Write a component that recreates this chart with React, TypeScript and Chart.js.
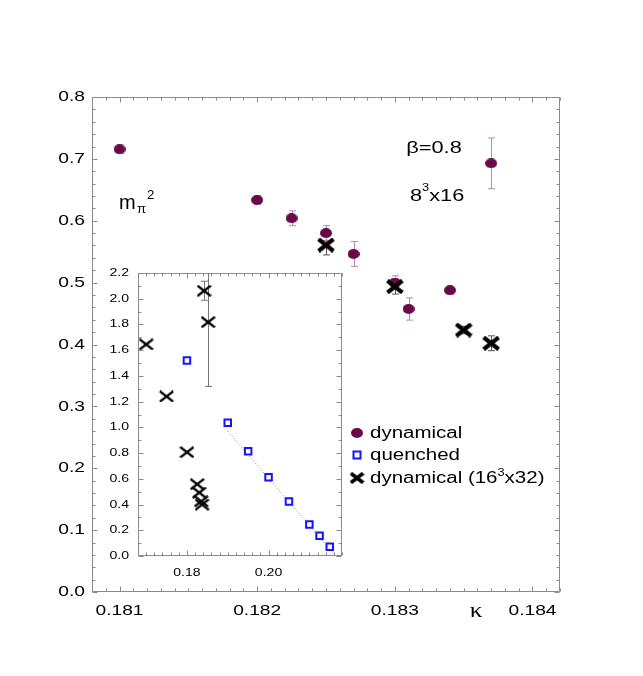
import React, { useEffect, useRef } from "react";
import { Chart, registerables } from "chart.js";

Chart.register(...registerables);

// ---------- data ----------
const dynKappa = [0.181, 0.182, 0.18225, 0.1825, 0.1827, 0.183, 0.1831, 0.1834, 0.1837];
const dynMass = [0.7155, 0.6335, 0.604, 0.58, 0.5463, 0.5, 0.4574, 0.4876, 0.6928];
const dynErr = [0.007, 0.007, 0.012, 0.012, 0.02, 0.011, 0.018, 0.006, 0.041];

const bigKappa = [0.1825, 0.183, 0.1835, 0.1837];
const bigMass = [0.5608, 0.4935, 0.4234, 0.402];
const bigErr = [0.016, 0.012, 0.006, 0.012];

const insetCrossKappa = [0.17, 0.175, 0.18, 0.1825, 0.183, 0.1835, 0.1837, 0.1842, 0.1852];
const insetCrossMass = [1.645, 1.24, 0.807, 0.558, 0.493, 0.425, 0.4, 2.062, 1.818];
const insetCrossErr = [0, 0, 0, 0, 0, 0, 0, 0.074, 0.5];

const quenchedKappa = [0.18, 0.19, 0.195, 0.2, 0.205, 0.21, 0.2125, 0.215];
const quenchedMass = [1.52, 1.035, 0.815, 0.612, 0.423, 0.244, 0.158, 0.072];

const fitKappa = [0.19, 0.2165];
const fitMass = [0.97, 0.0];

const mainXTicks = [0.181, 0.182, 0.183, 0.184];
const mainYTicks = [0.0, 0.1, 0.2, 0.3, 0.4, 0.5, 0.6, 0.7, 0.8];
const insetXTicks = [0.18, 0.2];
const insetYTicks = [0.0, 0.2, 0.4, 0.6, 0.8, 1.0, 1.2, 1.4, 1.6, 1.8, 2.0, 2.2];

// ---------- styles ----------
const PURPLE = "#680a48";
const PURPLE_ERR = "#b98aab";
const BLUE = "#1414ff";
const FRAME = "#8a8a8a";
const SANS = '"Liberation Sans", Arial, Helvetica, sans-serif';
const SX = 1.28; // horizontal stretch of the original figure's lettering

const toPts = (xs: number[], ys: number[]) => xs.map((x, i) => ({ x, y: ys[i] }));

function makeEllipse(w: number, h: number, color: string) {
  const c = document.createElement("canvas");
  c.width = w;
  c.height = h;
  const g = c.getContext("2d")!;
  g.fillStyle = color;
  g.beginPath();
  g.ellipse(w / 2, h / 2, w / 2, h / 2, 0, 0, Math.PI * 2);
  g.fill();
  return c;
}

function makeCross(w: number, h: number, lw: number) {
  const c = document.createElement("canvas");
  c.width = w;
  c.height = h;
  const g = c.getContext("2d")!;
  g.strokeStyle = "#000";
  g.lineWidth = lw;
  g.lineCap = "butt";
  const p = lw / 2.8;
  g.beginPath();
  g.moveTo(p, p);
  g.lineTo(w - p, h - p);
  g.moveTo(p, h - p);
  g.lineTo(w - p, p);
  g.stroke();
  return c;
}

function sText(
  ctx: CanvasRenderingContext2D,
  text: string,
  x: number,
  y: number,
  size: number,
  align: CanvasTextAlign = "left",
  baseline: CanvasTextBaseline = "alphabetic",
  family: string = SANS,
  sx: number = SX
) {
  ctx.save();
  ctx.font = `${size}px ${family}`;
  ctx.translate(x, y);
  ctx.scale(sx, 1);
  ctx.textAlign = align;
  ctx.textBaseline = baseline;
  ctx.fillText(text, 0, 0);
  const w = ctx.measureText(text).width * sx;
  ctx.restore();
  return w;
}

const errorBarsPlugin = {
  id: "errorBars",
  beforeDatasetsDraw(chart: any) {
    const ctx = chart.ctx;
    const a = chart.chartArea;
    const xs = chart.scales.x;
    const ys = chart.scales.y;
    ctx.save();
    ctx.beginPath();
    ctx.rect(a.left, a.top, a.right - a.left, a.bottom - a.top);
    ctx.clip();
    chart.data.datasets.forEach((ds: any) => {
      if (!ds.errors) return;
      ds.data.forEach((p: any, i: number) => {
        const e = ds.errors[i];
        if (!e) return;
        const px = Math.round(xs.getPixelForValue(p.x)) + 0.5;
        const y1 = ys.getPixelForValue(p.y + e);
        const y2 = ys.getPixelForValue(p.y - e);
        const cap = 3.5;
        ctx.strokeStyle = ds.errorColor;
        ctx.lineWidth = 1;
        ctx.beginPath();
        ctx.moveTo(px, y1);
        ctx.lineTo(px, y2);
        ctx.moveTo(px - cap, y1);
        ctx.lineTo(px + cap, y1);
        ctx.moveTo(px - cap, y2);
        ctx.lineTo(px + cap, y2);
        ctx.stroke();
      });
    });
    ctx.restore();
  },
};

const framePlugin = {
  id: "frame",
  beforeDatasetsDraw(chart: any, _args: any, opts: any) {
    const ctx = chart.ctx;
    const a = chart.chartArea;
    const xs = chart.scales.x;
    const ys = chart.scales.y;
    ctx.save();
    ctx.strokeStyle = FRAME;
    ctx.lineWidth = 1;
    const L = Math.round(a.left) + 0.5;
    const R = Math.round(a.right) - 0.5;
    const T = Math.round(a.top) + 0.5;
    const B = Math.round(a.bottom) - 0.5;
    ctx.beginPath();
    ctx.rect(L, T, R - L, B - T);
    ctx.stroke();
    const isMajor = (v: number, majors: number[], step: number) =>
      majors.some((m) => Math.abs(m - v) < step / 10);
    ctx.beginPath();
    const xi0 = Math.ceil(xs.min / opts.xMinor - 1e-6);
    const xi1 = Math.floor(xs.max / opts.xMinor + 1e-6);
    for (let i = xi0; i <= xi1; i++) {
      const v = i * opts.xMinor;
      const len = isMajor(v, opts.xMajors, opts.xMinor) ? opts.major : opts.minor;
      const px = Math.round(xs.getPixelForValue(v)) + 0.5;
      ctx.moveTo(px, B);
      ctx.lineTo(px, B - len);
      ctx.moveTo(px, T);
      ctx.lineTo(px, T + len);
    }
    const yi0 = Math.ceil(ys.min / opts.yMinor - 1e-6);
    const yi1 = Math.floor(ys.max / opts.yMinor + 1e-6);
    for (let i = yi0; i <= yi1; i++) {
      const v = i * opts.yMinor;
      const len = isMajor(v, opts.yMajors, opts.yMinor) ? opts.major : opts.minor;
      const py = Math.round(ys.getPixelForValue(v)) + 0.5;
      ctx.moveTo(L, py);
      ctx.lineTo(L + len, py);
      ctx.moveTo(R, py);
      ctx.lineTo(R - len, py);
    }
    ctx.stroke();
    ctx.restore();
  },
  afterDraw(chart: any, _args: any, opts: any) {
    const ctx: CanvasRenderingContext2D = chart.ctx;
    const a = chart.chartArea;
    const xs = chart.scales.x;
    const ys = chart.scales.y;
    ctx.save();
    ctx.fillStyle = "#000";
    xs.ticks.forEach((t: any) => {
      const px = xs.getPixelForValue(t.value);
      sText(ctx, Number(t.value).toFixed(opts.xDigits), px, a.bottom + opts.xOffset, opts.fontSize, "center", "middle");
    });
    ys.ticks.forEach((t: any) => {
      const py = ys.getPixelForValue(t.value);
      sText(ctx, Number(t.value).toFixed(opts.yDigits), a.left - opts.yOffset, py, opts.fontSize, "right", "middle");
    });
    ctx.restore();
  },
};

const annotationsPlugin = {
  id: "annotations",
  afterDraw(chart: any) {
    const ctx: CanvasRenderingContext2D = chart.ctx;
    ctx.save();
    ctx.fillStyle = "#000";
    // m_pi^2
    sText(ctx, "m", 119, 209, 20, "left", "alphabetic", SANS, 1.0);
    sText(ctx, "π", 137, 213, 12, "left", "alphabetic", SANS, 1.1);
    sText(ctx, "2", 147, 199, 12, "left", "alphabetic", SANS, 1.1);
    // beta
    sText(ctx, "β=0.8", 434, 153, 17, "center");
    // 8^3x16
    let x = 410;
    x += sText(ctx, "8", x, 201, 17);
    x += sText(ctx, "3", x, 191, 10);
    sText(ctx, "x16", x, 201, 17);

    // legend markers
    const ell = chart.$ellipse;
    if (ell) ctx.drawImage(ell, 357 - ell.width / 2, 433 - ell.height / 2);
    ctx.strokeStyle = BLUE;
    ctx.lineWidth = 2;
    ctx.strokeRect(353.5, 451.5, 7, 7);
    const cr = chart.$legendCross;
    if (cr) ctx.drawImage(cr, 357 - cr.width / 2, 478 - cr.height / 2);
    // legend texts
    sText(ctx, "dynamical", 370, 434, 16, "left", "middle");
    sText(ctx, "quenched", 370, 456, 16, "left", "middle");
    x = 370;
    x += sText(ctx, "dynamical (16", x, 479, 16, "left", "middle");
    x += sText(ctx, "3", x, 473, 10, "left", "middle");
    sText(ctx, "x32)", x, 479, 16, "left", "middle");

    // kappa
    sText(ctx, "κ", 476, 617, 21, "center", "alphabetic", '"Liberation Serif", "DejaVu Serif", serif', 1.2);
    ctx.restore();
  },
};

export default function App() {
  const mainRef = useRef<HTMLCanvasElement>(null);
  const insetRef = useRef<HTMLCanvasElement>(null);

  useEffect(() => {
    const ellipse = makeEllipse(12, 10, PURPLE);
    const bigCross = makeCross(18, 15, 4.2);
    const legendCross = makeCross(15, 12, 3.8);
    const smallCross = makeCross(15, 12, 2.4);

    const main = new Chart(mainRef.current!, {
      type: "scatter",
      data: {
        datasets: [
          {
            label: "dynamical (16^3x32)",
            data: toPts(bigKappa, bigMass),
            pointStyle: bigCross,
            pointRadius: 8,
            errors: bigErr,
            errorColor: "#555",
          } as any,
          {
            label: "dynamical",
            data: toPts(dynKappa, dynMass),
            pointStyle: ellipse,
            pointRadius: 6,
            errors: dynErr,
            errorColor: PURPLE_ERR,
          } as any,
        ],
      },
      options: {
        responsive: false,
        animation: false,
        events: [],
        layout: { padding: { left: 0, right: 83, top: 97, bottom: 0 } },
        scales: {
          x: {
            type: "linear",
            min: 0.1808,
            max: 0.1842,
            grid: { display: false, drawTicks: false },
            border: { display: false },
            afterFit: (s: any) => {
              s.height = 84;
            },
            afterBuildTicks: (s: any) => {
              s.ticks = mainXTicks.map((v) => ({ value: v }));
            },
            ticks: { display: false },
          },
          y: {
            type: "linear",
            min: 0,
            max: 0.8,
            grid: { display: false, drawTicks: false },
            border: { display: false },
            afterFit: (s: any) => {
              s.width = 92;
            },
            afterBuildTicks: (s: any) => {
              s.ticks = mainYTicks.map((v) => ({ value: v }));
            },
            ticks: { display: false },
          },
        },
        plugins: {
          legend: { display: false },
          tooltip: { enabled: false },
          frame: {
            xMinor: 0.0001,
            yMinor: 0.02,
            xMajors: mainXTicks,
            yMajors: mainYTicks,
            major: 5,
            minor: 3,
            fontSize: 15,
            xDigits: 3,
            yDigits: 1,
            xOffset: 19,
            yOffset: 7,
          },
        } as any,
      },
      plugins: [framePlugin, errorBarsPlugin, annotationsPlugin],
    } as any);
    (main as any).$ellipse = ellipse;
    (main as any).$legendCross = legendCross;
    main.draw();

    const inset = new Chart(insetRef.current!, {
      type: "scatter",
      data: {
        datasets: [
          {
            label: "dynamical (16^3x32) inset",
            data: toPts(insetCrossKappa, insetCrossMass),
            pointStyle: smallCross,
            pointRadius: 7,
            errors: insetCrossErr,
            errorColor: "#777",
          } as any,
          {
            label: "quenched",
            data: toPts(quenchedKappa, quenchedMass),
            pointStyle: "rect",
            pointRadius: 4.6,
            borderWidth: 2,
            borderColor: BLUE,
            backgroundColor: "#fff",
          },
          {
            label: "fit",
            data: toPts(fitKappa, fitMass),
            showLine: true,
            borderColor: "#888",
            borderWidth: 1,
            borderDash: [1, 2],
            pointRadius: 0,
          },
        ],
      },
      options: {
        responsive: false,
        animation: false,
        events: [],
        layout: { padding: { left: 0, right: 5, top: 11, bottom: 0 } },
        scales: {
          x: {
            type: "linear",
            min: 0.168,
            max: 0.218,
            grid: { display: false, drawTicks: false },
            border: { display: false },
            afterFit: (s: any) => {
              s.height = 24;
            },
            afterBuildTicks: (s: any) => {
              s.ticks = insetXTicks.map((v) => ({ value: v }));
            },
            ticks: { display: false },
          },
          y: {
            type: "linear",
            min: 0,
            max: 2.2,
            grid: { display: false, drawTicks: false },
            border: { display: false },
            afterFit: (s: any) => {
              s.width = 38;
            },
            afterBuildTicks: (s: any) => {
              s.ticks = insetYTicks.map((v) => ({ value: v }));
            },
            ticks: { display: false },
          },
        },
        plugins: {
          legend: { display: false },
          tooltip: { enabled: false },
          frame: {
            xMinor: 0.002,
            yMinor: 0.1,
            xMajors: insetXTicks,
            yMajors: insetYTicks,
            major: 5,
            minor: 3,
            fontSize: 11,
            xDigits: 2,
            yDigits: 1,
            xOffset: 17,
            yOffset: 9,
          },
        } as any,
      },
      plugins: [framePlugin, errorBarsPlugin],
    } as any);

    return () => {
      main.destroy();
      inset.destroy();
    };
  }, []);

  return (
    <div style={{ position: "fixed", left: 0, top: 0, width: 643, height: 676, background: "#fff" }}>
      <canvas
        ref={mainRef}
        width={643}
        height={676}
        style={{ position: "absolute", left: 0, top: 0, width: 643, height: 676 }}
      />
      <canvas
        ref={insetRef}
        width={250}
        height={318}
        style={{ position: "absolute", left: 100, top: 262, width: 250, height: 318 }}
      />
    </div>
  );
}
